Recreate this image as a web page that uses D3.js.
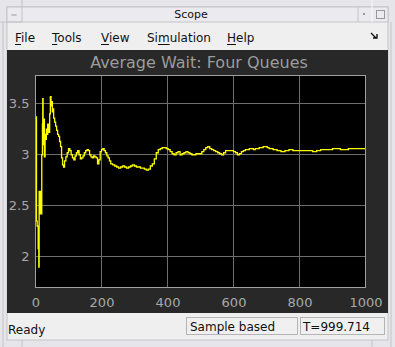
<!DOCTYPE html>
<html>
<head>
<meta charset="utf-8">
<script src="https://cdn.jsdelivr.net/npm/d3@7/dist/d3.min.js"></script>
<style>
  html, body { margin: 0; padding: 0; background: #e6e6ea; }
  svg text { font-family: "DejaVu Sans", sans-serif; }
</style>
</head>
<body>
<div id="scope"></div>
<script>
// data (time, average wait)
var times = [0, 3, 5, 8, 10, 11, 13, 15, 18, 19, 21, 22, 23, 25, 27, 29, 31, 33, 35, 37, 40, 43, 45, 47, 49, 51, 53, 55, 58,
  61, 64, 67, 70, 73, 76, 79, 82, 85, 88, 92, 96, 100, 104, 108, 112, 116, 120, 124, 128, 132, 136, 140, 144, 148,
  152, 156, 160, 164, 168, 172, 176, 180, 184, 188, 192, 196, 200, 204, 208, 212, 216, 220, 224, 228, 234, 240,
  246, 252, 258, 264, 270, 276, 282, 288, 294, 300, 306, 312, 318, 324, 330, 336, 342, 348, 354, 360, 366, 372,
  378, 384, 390, 396, 402, 408, 414, 420, 426, 432, 438, 444, 450, 456, 462, 468, 474, 480, 486, 492, 498, 504,
  510, 516, 522, 528, 534, 540, 546, 552, 558, 564, 570, 576, 582, 588, 594, 600, 606, 612, 618, 624, 630, 636,
  642, 648, 654, 660, 666, 672, 678, 684, 690, 696, 702, 708, 714, 720, 726, 732, 738, 744, 750, 756, 762, 768,
  780, 792, 804, 816, 828, 840, 852, 864, 876, 888, 900, 912, 924, 936, 948, 960, 972, 984, 999.714];
var waits = [3.37, 2.35, 2.30, 2.08, 1.90, 2.64, 2.64, 2.42, 2.42, 3.00, 3.30, 3.55, 3.10, 3.35, 2.98, 3.20, 3.15, 3.25, 3.20,
  3.30, 3.22, 3.40, 3.57, 3.48, 3.52, 3.42, 3.45, 3.36, 3.32, 3.28, 3.24, 3.20, 3.18, 3.13, 3.08, 2.97, 2.90, 2.88,
  2.94, 2.98, 3.02, 3.06, 3.04, 3.00, 2.97, 2.95, 2.99, 3.02, 3.04, 3.00, 2.96, 2.97, 2.99, 3.02, 3.04, 3.05, 3.04,
  3.00, 2.98, 2.97, 2.99, 2.98, 2.97, 2.91, 2.95, 3.03, 3.05, 3.06, 3.04, 3.02, 2.99, 2.97, 2.94, 2.91, 2.90, 2.89,
  2.88, 2.87, 2.88, 2.89, 2.88, 2.87, 2.88, 2.89, 2.90, 2.89, 2.88, 2.88, 2.87, 2.87, 2.86, 2.85, 2.86, 2.89, 2.91,
  2.96, 3.02, 3.05, 3.06, 3.07, 3.07, 3.06, 3.05, 3.03, 3.01, 3.00, 3.02, 3.03, 3.00, 3.01, 3.02, 3.03, 3.02, 3.01,
  3.00, 3.00, 3.01, 3.01, 3.01, 3.03, 3.05, 3.07, 3.08, 3.06, 3.05, 3.04, 3.03, 3.02, 3.01, 3.00, 3.02, 3.04, 3.04,
  3.04, 3.04, 3.03, 3.02, 3.00, 3.01, 3.03, 3.04, 3.05, 3.05, 3.06, 3.06, 3.05, 3.06, 3.06, 3.07, 3.07, 3.08, 3.08,
  3.07, 3.06, 3.06, 3.05, 3.05, 3.04, 3.04, 3.03, 3.03, 3.04, 3.04, 3.05, 3.04, 3.04, 3.04, 3.04, 3.04, 3.03, 3.04,
  3.05, 3.05, 3.05, 3.06, 3.06, 3.05, 3.05, 3.06, 3.06, 3.06, 3.06, 3.05];
var xTicks = [0, 200, 400, 600, 800, 1000];
var yTicks = [2, 2.5, 3, 3.5];
var menuItems = ["File", "Tools", "View", "Simulation", "Help"];
var menuKeys = [0, 0, 0, 2, 0];   // underlined letter
var menuX = [15, 52, 101, 147, 227];

var width = 395, height = 347;
var margin = { top: 75, right: 30, bottom: 60, left: 35 };
var plotW = width - margin.left - margin.right;
var plotH = height - margin.top - margin.bottom - 0;

var svg = d3.select("#scope").append("svg")
  .attr("width", width)
  .attr("height", height);

// window frame
svg.append("rect").attr("x", 0).attr("y", 0).attr("width", width).attr("height", height).attr("fill", "#e6e6ea");
svg.append("rect").attr("x", 7).attr("y", 7).attr("width", 381).attr("height", 333)
  .attr("fill", "#efefef").attr("stroke", "#c4c4c8");
svg.append("rect").attr("x", 7).attr("y", 7).attr("width", 381).attr("height", 15)
  .attr("fill", "#ebebef").attr("stroke", "#c4c4c8");
svg.append("line").attr("x1", 22).attr("x2", 22).attr("y1", 0).attr("y2", 22).attr("stroke", "#c4c4c8");
svg.append("line").attr("x1", 0).attr("x2", 22).attr("y1", 22).attr("y2", 22).attr("stroke", "#c4c4c8");
svg.append("line").attr("x1", 3).attr("x2", 3).attr("y1", 22).attr("y2", 347).attr("stroke", "#c4c4c8");
svg.append("line").attr("x1", 372).attr("x2", 372).attr("y1", 0).attr("y2", 22).attr("stroke", "#fafafa");
svg.append("line").attr("x1", 358).attr("x2", 358).attr("y1", 7).attr("y2", 22).attr("stroke", "#c4c4c8");
svg.append("line").attr("x1", 391).attr("x2", 391).attr("y1", 22).attr("y2", 347).attr("stroke", "#c4c4c8");
svg.append("line").attr("x1", 22).attr("x2", 22).attr("y1", 340).attr("y2", 347).attr("stroke", "#c4c4c8");
svg.append("line").attr("x1", 372).attr("x2", 372).attr("y1", 340).attr("y2", 347).attr("stroke", "#c4c4c8");
svg.append("rect").attr("x", 11.5).attr("y", 14.5).attr("width", 5).attr("height", 1).attr("fill", "#999");
svg.append("rect").attr("x", 376.5).attr("y", 10.5).attr("width", 8).attr("height", 8)
  .attr("fill", "none").attr("stroke", "#999");
svg.append("rect").attr("x", 363).attr("y", 13).attr("width", 2).attr("height", 2).attr("fill", "#999");
svg.append("text").attr("x", 191).attr("y", 18).attr("text-anchor", "middle")
  .attr("font-size", 11).attr("fill", "#111").text("Scope");

// menu bar
var menu = svg.append("g");
menuItems.forEach(function (m, i) {
  var t = menu.append("text").attr("x", menuX[i]).attr("y", 42)
    .attr("font-size", 12).attr("fill", "#111").text(m);
  var pre = t.node().getSubStringLength ? t.node().getSubStringLength(0, menuKeys[i]) : 0;
  var w = t.node().getSubStringLength(menuKeys[i], 1);
  menu.append("line").attr("x1", menuX[i] + pre).attr("x2", menuX[i] + pre + w)
    .attr("y1", 44.5).attr("y2", 44.5).attr("stroke", "#111");
});
svg.append("path").attr("d", "M371,33 L376,38 M373,38 L377,38 L377,34")
  .attr("stroke", "#111").attr("stroke-width", 1.4).attr("fill", "none");

// dark figure background
svg.append("rect").attr("x", 7).attr("y", 50).attr("width", 381).attr("height", 263).attr("fill", "#282828");

var xScale = d3.scaleLinear().domain([0, 1000]).range([0, 330]);
var yScale = d3.scaleLinear().domain([1.699, 3.777]).range([212, 0]);

var focus = svg.append("g")
  .attr("transform", "translate(" + 35.5 + "," + 75.5 + ")");

focus.append("rect").attr("width", 330).attr("height", 212).attr("fill", "#000");

// grid
focus.selectAll(".gx").data(xTicks.slice(1, -1)).enter().append("line")
  .attr("x1", function (d) { return Math.round(xScale(d)); })
  .attr("x2", function (d) { return Math.round(xScale(d)); })
  .attr("y1", 0).attr("y2", 212).attr("stroke", "#6e6e6e");
focus.selectAll(".gy").data(yTicks).enter().append("line")
  .attr("y1", function (d) { return Math.round(yScale(d)); })
  .attr("y2", function (d) { return Math.round(yScale(d)); })
  .attr("x1", 0).attr("x2", 330).attr("stroke", "#6e6e6e");

// axes
var xAxis = d3.axisBottom(xScale).tickValues(xTicks).tickSize(0).tickPadding(10)
  .tickFormat(d3.format("d"));
var yAxis = d3.axisLeft(yScale).tickValues(yTicks).tickSize(0).tickPadding(6)
  .tickFormat(function (d) { return d % 1 === 0 ? d : d.toFixed(1); });

var gX = focus.append("g").attr("transform", "translate(0,212)").call(xAxis);
var gY = focus.append("g").call(yAxis);
[gX, gY].forEach(function (g) {
  g.select(".domain").remove();
  g.selectAll("text").attr("fill", "#a8a8a8").attr("font-size", 13)
    .attr("font-family", "DejaVu Sans, sans-serif");
});

// trace
var data = times.map(function (t, i) { return { x: t, y: waits[i] }; });
var valueline = d3.line()
  .x(function (d) { return xScale(d.x); })
  .y(function (d) { return yScale(d.y); })
  .curve(d3.curveStepAfter);
focus.append("path").datum(data)
  .attr("d", valueline)
  .attr("fill", "none")
  .attr("stroke", "#ffff00")
  .attr("stroke-width", 1.3);

// axes box
focus.append("rect").attr("width", 330).attr("height", 212)
  .attr("fill", "none").attr("stroke", "#a0a0a0");

// title
svg.append("text").attr("x", 199).attr("y", 68).attr("text-anchor", "middle")
  .attr("font-size", 16).attr("fill", "#9c9c9c").text("Average Wait: Four Queues");

// status bar
svg.append("text").attr("x", 8).attr("y", 334).attr("font-size", 12).attr("fill", "#111").text("Ready");
svg.append("rect").attr("x", 186.5).attr("y", 317.5).attr("width", 111).attr("height", 17)
  .attr("fill", "#f0f0f0").attr("stroke", "#b4b4b4");
svg.append("rect").attr("x", 300.5).attr("y", 317.5).attr("width", 84).attr("height", 17)
  .attr("fill", "#f0f0f0").attr("stroke", "#b4b4b4");
svg.append("text").attr("x", 190).attr("y", 331).attr("font-size", 12).attr("fill", "#111").text("Sample based");
svg.append("text").attr("x", 303).attr("y", 331).attr("font-size", 12).attr("fill", "#111").text("T=999.714");
</script>
</body>
</html>
